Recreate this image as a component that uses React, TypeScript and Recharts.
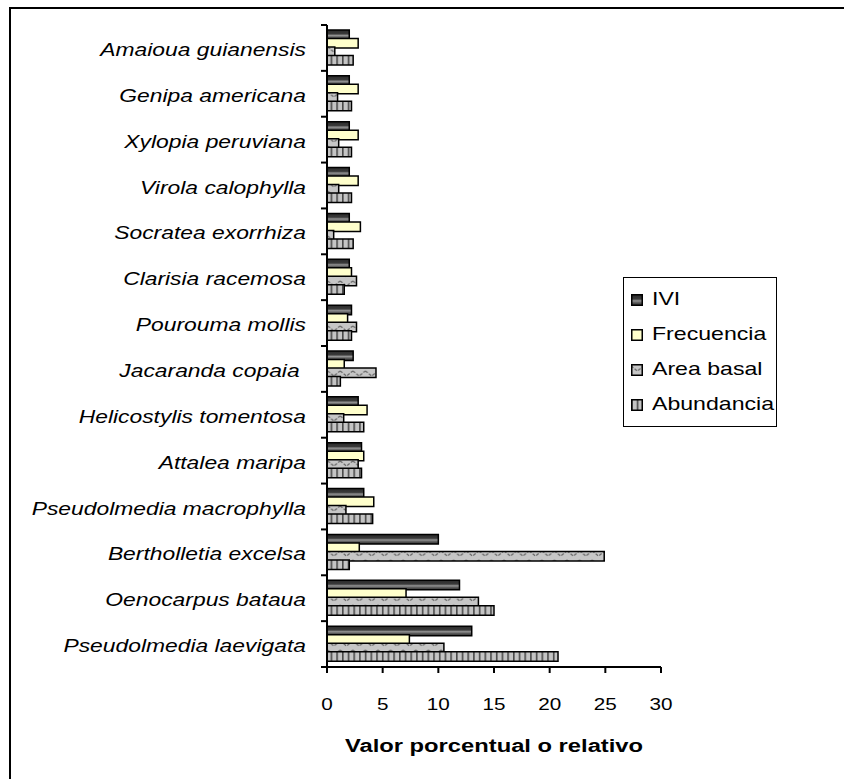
import React from 'react';
import { BarChart, Bar, XAxis, YAxis, Legend, Label } from 'recharts';

const species = [
    'Amaioua guianensis',
    'Genipa americana',
    'Xylopia peruviana',
    'Virola calophylla',
    'Socratea exorrhiza',
    'Clarisia racemosa',
    'Pourouma mollis',
    'Jacaranda copaia ',
    'Helicostylis tomentosa',
    'Attalea maripa',
    'Pseudolmedia macrophylla',
    'Bertholletia excelsa',
    'Oenocarpus bataua',
    'Pseudolmedia laevigata',
];
const ivi = [2.0, 2.0, 2.0, 2.0, 2.0, 2.0, 2.2, 2.35, 2.8, 3.1, 3.3, 10.0, 11.9, 13.0];
const frecuencia = [2.8, 2.8, 2.8, 2.8, 3.0, 2.2, 1.85, 1.55, 3.6, 3.3, 4.2, 2.9, 7.1, 7.4];
const areaBasal = [0.7, 0.95, 1.05, 1.05, 0.6, 2.65, 2.65, 4.4, 1.5, 2.8, 1.7, 24.9, 13.6, 10.5];
const abundancia = [2.35, 2.2, 2.2, 2.2, 2.35, 1.55, 2.2, 1.2, 3.3, 3.1, 4.1, 2.0, 15.0, 20.75];
const xTicks = [0, 5, 10, 15, 20, 25, 30];
const seriesOrder = ['ivi', 'frecuencia', 'areaBasal', 'abundancia'];

const data = species.map((name, i) => ({
    name,
    ivi: ivi[i],
    frecuencia: frecuencia[i],
    areaBasal: areaBasal[i],
    abundancia: abundancia[i],
}));

const CHART_W = 844;
const CHART_H = 779;
const TOP = 25;
const Y_AXIS_W = 327;
const X_AXIS_H = 112;
const RIGHT = 183;
const BAND = (CHART_H - TOP - X_AXIS_H) / species.length;
const SX = 1.27; // horizontal stretch of the text in the picture
const FONT = '"Liberation Sans", Arial, sans-serif';

const fills: Record<string, string> = {
    ivi: 'url(#gIvi)',
    frecuencia: '#FFFFCC',
    areaBasal: 'url(#pArea)',
    abundancia: 'url(#pAbund)',
};

const YTick = (props: any) => {
    const { x, y, payload, index } = props;
    const top = y - BAND / 2;
    return (
        <g>
            <line x1={x - 6} x2={x} y1={top} y2={top} stroke="#000" strokeWidth={2} />
            {index === species.length - 1 && (
                <line x1={x - 6} x2={x} y1={top + BAND} y2={top + BAND} stroke="#000" strokeWidth={2} />
            )}
            <g transform={`translate(${x - 21},${y + 8})`}>
                <text
                    transform={`scale(${SX},1)`}
                    textAnchor="end"
                    fontStyle="italic"
                    fontSize={18}
                    fontFamily={FONT}
                    fill="#000"
                    style={{ whiteSpace: 'pre' }}
                >
                    {payload.value}
                </text>
            </g>
        </g>
    );
};

const XTick = (props: any) => {
    const { x, y, payload } = props;
    return (
        <g transform={`translate(${x},${y + 37})`}>
            <text transform={`scale(${SX},1)`} textAnchor="middle" fontSize={16.3} fontFamily={FONT} fill="#000">
                {payload.value}
            </text>
        </g>
    );
};

const AxisTitle = (props: any) => {
    const { viewBox } = props;
    const cx = viewBox.x + viewBox.width / 2;
    return (
        <g transform={`translate(${cx},${752})`}>
            <text
                transform={`scale(${SX},1)`}
                textAnchor="middle"
                fontSize={18.7}
                fontWeight="bold"
                fontFamily={FONT}
                fill="#000"
            >
                Valor porcentual o relativo
            </text>
        </g>
    );
};

const LegendBox = (props: any) => {
    const payload = [...(props.payload || [])].sort(
        (a: any, b: any) => seriesOrder.indexOf(a.dataKey) - seriesOrder.indexOf(b.dataKey)
    );
    return (
        <div
            style={{
                width: 152,
                height: 144,
                border: '1.5px solid #000',
                background: '#fff',
                boxSizing: 'content-box',
                paddingTop: 4,
            }}
        >
            {payload.map((entry: any) => (
                <div key={entry.value} style={{ height: 35, display: 'flex', alignItems: 'center' }}>
                    <svg width={12} height={12} style={{ marginLeft: 7, marginRight: 9 }}>
                        <rect
                            x={0.75}
                            y={0.75}
                            width={10.5}
                            height={10.5}
                            fill={fills[entry.dataKey]}
                            stroke="#000"
                            strokeWidth={1.5}
                        />
                    </svg>
                    <span
                        style={{
                            display: 'inline-block',
                            transform: `scaleX(${SX})`,
                            transformOrigin: 'left center',
                            fontFamily: FONT,
                            fontSize: 18.2,
                            color: '#000',
                            whiteSpace: 'nowrap',
                        }}
                    >
                        {entry.value}
                    </span>
                </div>
            ))}
        </div>
    );
};

export default function App() {
    return (
        <div
            style={{
                position: 'fixed',
                left: 0,
                top: 0,
                width: CHART_W,
                height: CHART_H,
                overflow: 'hidden',
                background: '#fff',
            }}
        >
            <div
                style={{
                    position: 'absolute',
                    left: 9,
                    top: 7,
                    width: 900,
                    height: 900,
                    borderLeft: '2px solid #000',
                    borderTop: '2px solid #000',
                }}
            />
            <div style={{ position: 'absolute', left: 0, top: 0 }}>
                <BarChart
                    width={CHART_W}
                    height={CHART_H}
                    data={data}
                    layout="vertical"
                    margin={{ top: TOP, right: RIGHT, left: 0, bottom: 0 }}
                    barSize={9.5}
                    barGap={-1}
                >
                    <defs>
                        <linearGradient id="gIvi" x1="0" y1="0" x2="0" y2="1">
                            <stop offset="0%" stopColor="#2a2a2a" />
                            <stop offset="40%" stopColor="#3a3a3a" />
                            <stop offset="58%" stopColor="#929292" />
                            <stop offset="78%" stopColor="#555" />
                            <stop offset="100%" stopColor="#2e2e2e" />
                        </linearGradient>
                        <pattern id="pArea" width={12.6} height={9} patternUnits="userSpaceOnUse">
                            <rect width={12.6} height={9} fill="#c6c6c6" />
                            <path
                                d="M0,2 L6.3,7 L12.6,2"
                                stroke="#6a6a6a"
                                strokeWidth={1.3}
                                fill="none"
                                strokeDasharray="3 1.5"
                            />
                        </pattern>
                        <pattern id="pAbund" width={5.7} height={10} patternUnits="userSpaceOnUse">
                            <rect width={5.7} height={10} fill="#c4c4c4" />
                            <rect x={0} width={1.6} height={10} fill="#4a4a4a" />
                        </pattern>
                    </defs>
                    <XAxis
                        type="number"
                        domain={[0, 30]}
                        ticks={xTicks}
                        height={X_AXIS_H}
                        axisLine={{ stroke: '#000', strokeWidth: 2 }}
                        tickLine={{ stroke: '#000', strokeWidth: 2 }}
                        tickSize={6}
                        tickMargin={0}
                        tick={<XTick />}
                        interval={0}
                    >
                        <Label content={<AxisTitle />} />
                    </XAxis>
                    <YAxis
                        type="category"
                        dataKey="name"
                        width={Y_AXIS_W}
                        axisLine={{ stroke: '#000', strokeWidth: 2 }}
                        tickLine={false}
                        tickSize={0}
                        tickMargin={0}
                        tick={<YTick />}
                        interval={0}
                    />
                    <Legend
                        layout="vertical"
                        align="center"
                        verticalAlign="middle"
                        content={<LegendBox />}
                        wrapperStyle={{ position: 'absolute', left: 623, top: 277, width: 'auto' }}
                    />
                    <Bar dataKey="ivi" name="IVI" fill={fills.ivi} stroke="#000" strokeWidth={1.5} isAnimationActive={false} />
                    <Bar dataKey="frecuencia" name="Frecuencia" fill={fills.frecuencia} stroke="#000" strokeWidth={1.5} isAnimationActive={false} />
                    <Bar dataKey="areaBasal" name="Area basal" fill={fills.areaBasal} stroke="#000" strokeWidth={1.5} isAnimationActive={false} />
                    <Bar dataKey="abundancia" name="Abundancia" fill={fills.abundancia} stroke="#000" strokeWidth={1.5} isAnimationActive={false} />
                </BarChart>
            </div>
        </div>
    );
}
